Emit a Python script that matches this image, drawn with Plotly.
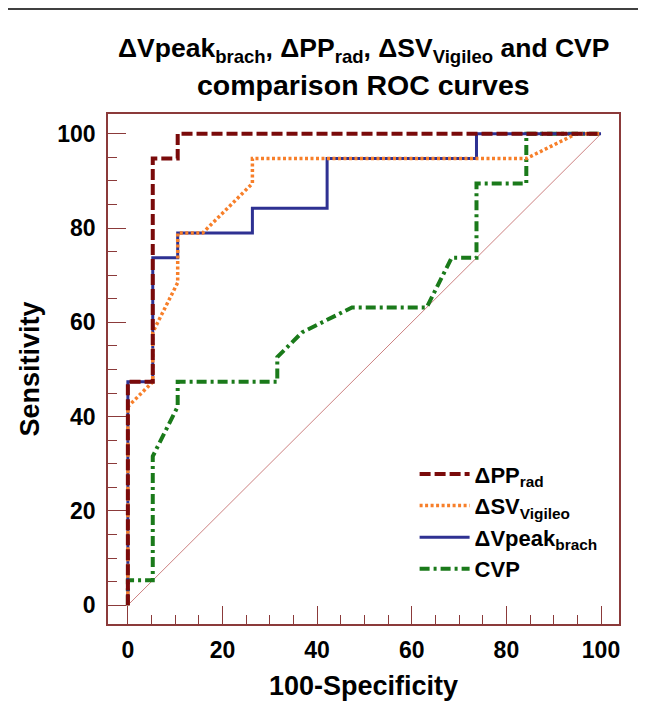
import plotly.graph_objects as go

# ROC curve data (100-Specificity, Sensitivity)
pp_x = [0, 0, 5.26, 5.26, 10.53, 10.53, 100]
pp_y = [0, 47.37, 47.37, 94.74, 94.74, 100, 100]

sv_x = [0, 0, 5.26, 5.26, 10.53, 10.53, 15.79, 26.32, 26.32, 84.21, 94.74, 100]
sv_y = [0, 42.11, 47.37, 57.89, 68.42, 78.95, 78.95, 89.47, 94.74, 94.74, 100, 100]

vp_x = [0, 0, 5.26, 5.26, 10.53, 10.53, 26.32, 26.32, 42.11, 42.11, 73.68, 73.68, 100]
vp_y = [0, 47.37, 47.37, 73.68, 73.68, 78.95, 78.95, 84.21, 84.21, 94.74, 94.74, 100, 100]

cvp_x = [0, 0, 5.26, 5.26, 10.53, 10.53, 31.58, 31.58, 36.84, 47.37, 63.16, 68.42, 73.68, 73.68, 84.21, 84.21, 100]
cvp_y = [0, 5.26, 5.26, 31.58, 42.11, 47.37, 47.37, 52.63, 57.89, 63.16, 63.16, 73.68, 73.68, 89.47, 89.47, 100, 100]

diag = [0, 100]
ticks = [0, 20, 40, 60, 80, 100]

FRAME = "#8B3A3A"
FONT = "Liberation Sans, Arial, sans-serif"

fig = go.Figure()
fig.add_trace(go.Scatter(x=diag, y=diag, mode="lines", line=dict(color="#CC8080", width=1),
                         showlegend=False, hoverinfo="skip"))
fig.add_trace(go.Scatter(x=cvp_x, y=cvp_y, mode="lines", name="<b>CVP</b>", legendgroup="d",
                         line=dict(color="#1A7A1A", width=4, dash="10px,4px,3px,4px")))
fig.add_trace(go.Scatter(x=vp_x, y=vp_y, mode="lines", name="<b>ΔVpeak<sub>brach</sub></b>", legendgroup="c",
                         line=dict(color="#2E3192", width=3)))
fig.add_trace(go.Scatter(x=sv_x, y=sv_y, mode="lines", name="<b>ΔSV<sub>Vigileo</sub></b>", legendgroup="b",
                         line=dict(color="#F77F2A", width=3.5, dash="3px,2.5px")))
fig.add_trace(go.Scatter(x=pp_x, y=pp_y, mode="lines", name="<b>ΔPP<sub>rad</sub></b>", legendgroup="a",
                         line=dict(color="#7A0A0A", width=4, dash="11px,4px")))

axis_common = dict(
    showline=True, mirror=True, linecolor=FRAME, linewidth=1.5,
    ticks="inside", ticklen=18, tickcolor=FRAME, tickwidth=1.2,
    tickvals=ticks, showgrid=False, zeroline=False,
    tickfont=dict(family=FONT, size=23, color="black", weight="bold"),
    minor=dict(dtick=5, ticks="inside", ticklen=9, tickcolor=FRAME, tickwidth=1.2, showgrid=False),
)

fig.update_layout(
    width=646, height=702,
    paper_bgcolor="white", plot_bgcolor="white",
    margin=dict(l=100, r=35, t=106, b=86),
    xaxis=dict(range=[-4.2, 103.8], ticklabelstandoff=5,
               title=dict(text="<b>100-Specificity</b>", font=dict(family=FONT, size=27, color="black"), standoff=14),
               **axis_common),
    yaxis=dict(range=[-4.0, 104.2], ticklabelstandoff=6,
               title=dict(text="<b>Sensitivity</b>", font=dict(family=FONT, size=27, color="black"), standoff=10),
               **axis_common),
    legend=dict(x=0.6, y=0.335, xanchor="left", yanchor="top", traceorder="reversed",
                bgcolor="rgba(0,0,0,0)", itemwidth=50, tracegroupgap=4,
                font=dict(family=FONT, size=22, color="black")),
    showlegend=True,
)

fig.add_annotation(
    text="<b>ΔVpeak<sub>brach</sub>, ΔPP<sub>rad</sub>, ΔSV<sub>Vigileo</sub> and CVP</b>",
    xref="paper", yref="paper", x=0.5, y=1.1255, xanchor="center", yanchor="middle",
    showarrow=False, font=dict(family=FONT, size=26.5, color="black"),
)
fig.add_annotation(
    text="<b>comparison ROC curves</b>",
    xref="paper", yref="paper", x=0.5, y=1.0569, xanchor="center", yanchor="middle",
    showarrow=False, font=dict(family=FONT, size=28.5, color="black"),
)

fig.add_shape(type="line", xref="paper", yref="paper", x0=-0.198, x1=1.07, y0=1.2059, y1=1.2059,
              line=dict(color="black", width=1.5))

fig.write_html("out.html")
